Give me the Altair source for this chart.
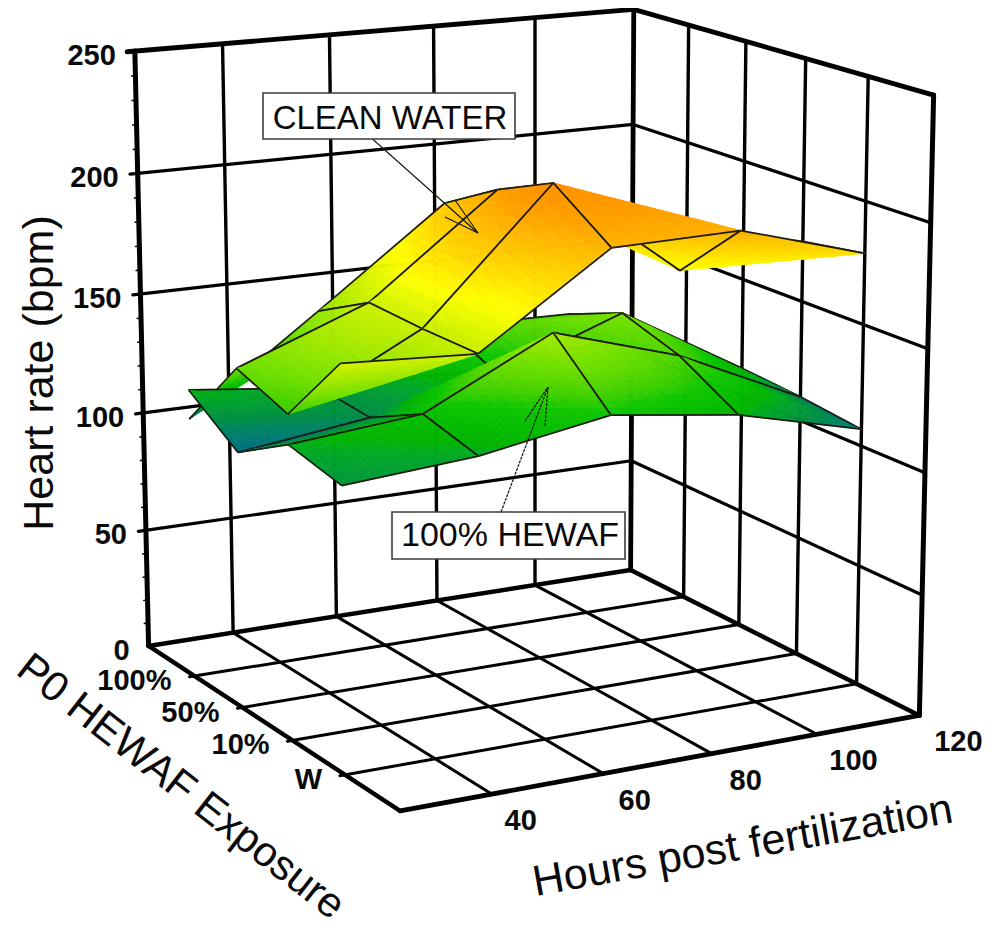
import numpy as np
import altair as alt
import pandas as pd

# ---- data ----
hours = [24, 48, 72, 96, 120]
exposure_labels = ["W", "10%", "50%", "100%"]
clean_w    = [161, 158, 193, 194, 179]
clean_10   = [131, 158, 210, 169, 175]
clean_50   = [139, 159, 199, 175, 169]
clean_100  = [108, 146, 185, 170, 165]
hewaf_w    = [114, 118, 127, 120, 107]
hewaf_10   = [119, 124, 150, 134, 110]
hewaf_50   = [105, 112, 123, 142, 112]
hewaf_100  = [120, 114, 133, 132, 112]
rate_ticks = [0, 50, 100, 150, 200, 250]
hour_ticks = [40, 60, 80, 100, 120]

clean = [clean_w, clean_10, clean_50, clean_100]
hewaf = [hewaf_w, hewaf_10, hewaf_50, hewaf_100]

color_domain = [105, 113, 120, 128, 140, 158, 170, 185, 200, 212]
color_range = ["#006a78", "#008f40", "#00b400", "#10c800", "#70e000", "#c8f000", "#ffff00", "#ffcc00", "#ffa000", "#ff8c00"]

# ---- 3-D box projection (hours, exposure index, rate) -> page pixels ----
P = np.array([[6.202111761396479, -47.57017048734466, -0.08373579111245984, 258.4475443494692],
              [-0.47177524803592524, -17.800666333887502, -2.72130788402917, 836.9325113827607],
              [0.000755223880989451, 0.024443483680957792, -0.0001562584409988798, 1.0]])
M = 8


def proj(h, e, z):
    p = P @ np.array([h, e, z, 1.0])
    return [float(p[0] / p[2] - M), float(p[1] / p[2] - M)]


def line(a, b, w):
    return {"type": "Feature", "properties": {"w": w},
            "geometry": {"type": "LineString", "coordinates": [proj(*a), proj(*b)]}}


# ---- frame ----
H0, H1, E0, E1 = 24, 120, 0, 5
frame = []
for h in hour_ticks[:-1]:
    frame.append(line((h, E1, 0), (h, E1, 250), 3.4))
    frame.append(line((h, E0, 0), (h, E1, 0), 3))
for e in range(1, 5):
    frame.append(line((H1, e, 0), (H1, e, 250), 3.4))
    frame.append(line((H0 - 0.9, e, 0), (H1, e, 0), 3))
for z in rate_ticks[1:-1]:
    frame.append(line((H0 - 1.4, E1, z), (H1, E1, z), 3.2))
    frame.append(line((H1, E1, z), (H1, E0, z), 3.2))
for z in range(0, 251, 10):
    if z % 50:
        frame.append(line((H0 - 0.7, E1, z), (H0, E1, z), 1.5))
frame += [
    line((H0 - 1.4, E1, 250), (H1, E1, 250), 4.8), line((H1, E1, 250), (H1, E0, 250), 4.8),
    line((H0, E1, 0), (H0, E1, 250), 5), line((H1, E1, 0), (H1, E1, 250), 4.8),
    line((H1, E0, 0), (H1, E0, 250), 5),
    line((H0, E1, 0), (H1, E1, 0), 4.4), line((H1, E1, 0), (H1, E0, 0), 4.4),
    line((H0, E1, 0), (H0, E0, 0), 4.4), line((H0, E0, 0), (H1, E0, 0), 4.8),
]

# ---- surface: painter's order, triangles shaded by height ----
N = 12
features = []


def tri(a, b, c):
    a, b, c = map(np.array, (a, b, c))
    for i in range(N):
        for j in range(N - i):
            corners = [[(i, j), (i + 1, j), (i, j + 1)]]
            if i + j < N - 1:
                corners.append([(i + 1, j), (i + 1, j + 1), (i, j + 1)])
            for cs in corners:
                pts = [a + (b - a) * u / N + (c - a) * v / N for u, v in cs]
                ring = [proj(*p) for p in pts]
                ring.append(ring[0])
                features.append({"type": "Feature",
                                 "properties": {"kind": "fill", "z": round(float(np.mean([p[2] for p in pts])), 1)},
                                 "geometry": {"type": "Polygon",
                                              "coordinates": [[[round(x, 1), round(y, 1)] for x, y in ring]]}})


def edge(a, b):
    features.append({"type": "Feature", "properties": {"kind": "edge", "z": 150},
                     "geometry": {"type": "LineString", "coordinates": [proj(*a), proj(*b)]}})


def band(surf, lo):
    """Cells between exposure rows lo (near) and lo+1 (far), far hours first."""
    for k in range(len(hours) - 2, -1, -1):
        hn, hf = hours[k], hours[k + 1]
        en, ef = lo + 1, lo + 2
        nn = (hn, en, surf[lo][k]); nf = (hf, en, surf[lo][k + 1])
        fn = (hn, ef, surf[lo + 1][k]); ff = (hf, ef, surf[lo + 1][k + 1])
        tri(fn, ff, nf); edge(fn, ff); edge(ff, nf)
        tri(fn, nn, nf); edge(fn, nn); edge(nn, nf)


for surf, lo in [(clean, 2), (hewaf, 2), (hewaf, 1), (clean, 1), (clean, 0), (hewaf, 0)]:
    band(surf, lo)


def fc(fs):
    return alt.InlineData(values={"type": "FeatureCollection", "features": fs},
                          format=alt.JsonDataFormat(property="features"))


identity = dict(type="identity", scale=1, translate=[0, 0])
is_edge = "datum.properties.kind == 'edge'"
zscale = alt.Scale(domain=color_domain, range=color_range)

frame_layer = alt.Chart(fc(frame)).mark_geoshape(filled=False, color="black", strokeCap="round").encode(
    strokeWidth=alt.StrokeWidth("properties.w:Q", scale=None)
).project(**identity)

surface_layer = alt.Chart(fc(features)).mark_geoshape(strokeJoin="round").encode(
    fill=alt.condition(is_edge, alt.value("transparent"), alt.Fill("properties.z:Q", scale=zscale, legend=None)),
    stroke=alt.condition(is_edge, alt.value("#1c1c10"), alt.Stroke("properties.z:Q", scale=zscale, legend=None)),
    strokeWidth=alt.condition(is_edge, alt.value(1.7), alt.value(0.7)),
).project(**identity)


# ---- text and annotation ----
def text_layer(rows, size, bold=False, align="center", angle=0):
    df = pd.DataFrame(rows, columns=["x", "y", "t"])
    return alt.Chart(df).mark_text(font="Liberation Sans", fontSize=size, fontWeight="bold" if bold else "normal",
                                   align=align, baseline="alphabetic", angle=angle, color="#0a0a0a").encode(
        x=alt.X("x:Q", scale=None, axis=None), y=alt.Y("y:Q", scale=None, axis=None), text="t:N")


def off(p, dx, dy):
    return p[0] + dx, p[1] + dy


rate_rows = [(*off(proj(H0, E1, z), -19, 14), str(z)) for z in rate_ticks]
exp_rows = [(*off(proj(H0, i + 1, 0), -23, 14), s) for i, s in enumerate(exposure_labels)]
hour_rows = [(*off(proj(h, E0, 0), 29 + (h - 40) * 0.125, 36), str(h)) for h in hour_ticks]


def rules(rows, width, dash=None):
    df = pd.DataFrame(rows, columns=["x", "y", "x2", "y2"]) - M
    kw = {"strokeDash": dash} if dash else {}
    return alt.Chart(df).mark_rule(color="#111", strokeWidth=width, **kw).encode(
        x=alt.X("x:Q", scale=None, axis=None), x2="x2:Q",
        y=alt.Y("y:Q", scale=None, axis=None), y2="y2:Q")


def box(x0, y0, x1, y1):
    df = pd.DataFrame({"x": [x0 - M], "x2": [x1 - M], "y": [y0 - M], "y2": [y1 - M]})
    return alt.Chart(df).mark_rect(fill="white", stroke="#3c3c3c", strokeWidth=1.6).encode(
        x=alt.X("x:Q", scale=None, axis=None), x2="x2:Q",
        y=alt.Y("y:Q", scale=None, axis=None), y2="y2:Q")


leaders = rules([(368, 135, 478, 233), (445, 217, 478, 233), (455, 200, 478, 233)], 1.1)
leaders2 = rules([(501, 512, 548, 387), (525, 421, 548, 387), (545, 426, 548, 387)], 1.2, [3, 1])

chart = alt.layer(
    frame_layer, surface_layer, leaders, leaders2,
    box(263, 93, 515, 139), box(392, 512, 625, 559),
    text_layer([(390 - M, 129 - M, "CLEAN WATER")], 33),
    text_layer([(510 - M, 546 - M, "100% HEWAF")], 34),
    text_layer(rate_rows, 29, bold=True, align="right"),
    text_layer(exp_rows, 29, bold=True, align="right"),
    text_layer(hour_rows, 29, bold=True),
    text_layer([(53 - M, 373 - M, "Heart rate (bpm)")], 43, angle=270),
    text_layer([(745 - M, 859 - M, "Hours post fertilization")], 43, angle=350),
    text_layer([(173 - M, 797 - M, "P0 HEWAF Exposure")], 42, angle=38),
).properties(width=976, height=914, padding=0, autosize=alt.AutoSizeParams(type="none")).configure_view(stroke=None)

chart.save("out.html", embed_options={"renderer": "svg", "actions": False})
